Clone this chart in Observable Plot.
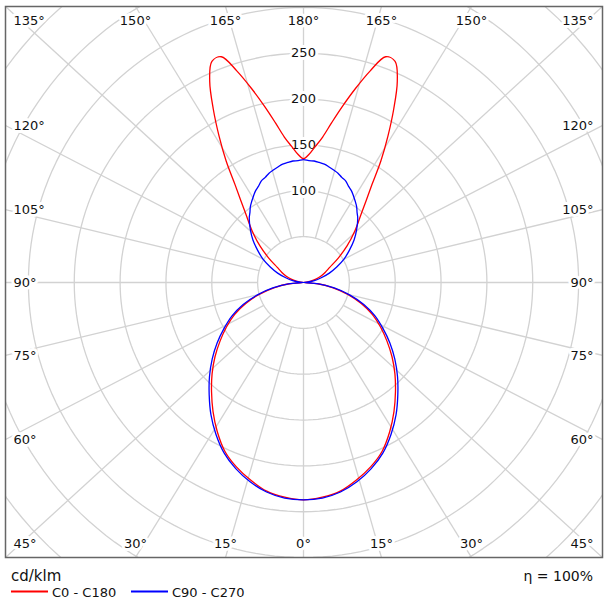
<!DOCTYPE html>
<html><head><meta charset="utf-8">
<script src="https://cdn.jsdelivr.net/npm/d3@7"></script>
<script src="https://cdn.jsdelivr.net/npm/@observablehq/plot@0.6"></script>
<style>
body{margin:0;background:#fff;}
#wrap{position:relative;width:605px;height:612px;background:#fff;}
#chart{position:absolute;left:0;top:0;}
#legend{position:absolute;left:0;top:562px;}
</style></head><body>
<div id="wrap"><div id="chart"></div><div id="legend"></div></div>
<script>
// vertical angle gamma (degrees), 0 = straight down, 180 = straight up
const gamma = [0,5,10,15,20,25,30,35,40,45,50,55,60,65,70,75,80,85,90,
  95,100,105,110,115,120,125,130,135,
  140,142.5,145,147.5,150,152.5,155,157.5,160,162.5,165,167.5,170,172.5,175,177.5,180];
// luminous intensity, cd/klm
const c0c180 = [237,235,231,223,214,203,188,172,156,141,126,111,97,83,67,50,32,15.5,0,
  3,8,14,20,26,33,46,62,79,
  98,112,130,157,184,213,242,261,262,242,219,197,177,160,149,140,135];
const c90c270 = [237,236,232,225,216,205,191,176,160,145,130,115,100,86,70,52,34,16.5,0,
  4,12,20,30,40,51,61,72,82,
  92,96,101,105,109,113,116,120,122,125,127,129,131,132,133,133,134];
const seriesNames = ["C0 - C180", "C90 - C270"];
const seriesColors = ["#ff0000", "#0000ff"];
const ringValues = [50,100,150,200,250,300,350,400,450,500];
const ringLabels = [100,150,200,250];
const angleLabels = [0,15,30,45,60,75,90,105,120,135,150,165,180];
const unitLabel = "cd/klm";
const efficiencyLabel = "η = 100%";

// ---- layout ----
const W = 605, H = 562, mL = 5, mR = 3, mT = 6, mB = 5;
const cx = 303, cy = 282, k = 0.917; // px per cd/klm
const xDom = [(mL - cx) / k, (W - mR - cx) / k];
const yDom = [-(H - mB - cy) / k, (cy - mT) / k];
const rad = d => d * Math.PI / 180;
const toX = px => (px - cx) / k, toY = py => (cy - py) / k;

// rings
const ringPts = [];
for (const r of ringValues) for (let a = 0; a <= 360; a += 2)
  ringPts.push({ring: r, X: r * Math.cos(rad(a)), Y: r * Math.sin(rad(a))});

// angle labels and radial lines
const labels = [], spokes = [];
for (const g of angleLabels) {
  const sides = (g === 0 || g === 180) ? [1] : [-1, 1];
  for (const s of sides) {
    const bottom = g < 90;
    const a = bottom ? g : 180 - g; // from vertical
    let lx, ly, anchor, ex, ey;
    if (a < 45) {
      lx = cx + s * 291 * Math.tan(rad(a)); ly = bottom ? 543 : 20; anchor = "middle";
      ex = lx; ey = bottom ? H - mB : mT;
    } else if (a === 45) {
      lx = s < 0 ? 13 : 593; ly = bottom ? 543 : 20; anchor = s < 0 ? "start" : "end";
      ex = s < 0 ? mL : W - mR; ey = bottom ? H - mB : mT;
    } else {
      lx = s < 0 ? 13 : 593; anchor = s < 0 ? "start" : "end";
      ly = cy + (bottom ? 1 : -1) * 272 * Math.tan(rad(90 - a));
      ex = s < 0 ? mL : W - mR; ey = ly;
    }
    labels.push({X: toX(lx), Y: toY(ly), text: g + "°", anchor});
    spokes.push({x1: s * 50 * Math.sin(rad(g)), y1: -50 * Math.cos(rad(g)), x2: toX(ex), y2: toY(ey)});
  }
}

// curves
function curvePoints(vals, name) {
  const pts = [];
  for (let i = 0; i < gamma.length; i++)
    pts.push({name, X: -vals[i] * Math.sin(rad(gamma[i])), Y: -vals[i] * Math.cos(rad(gamma[i]))});
  for (let i = gamma.length - 2; i >= 1; i--)
    pts.push({name, X: vals[i] * Math.sin(rad(gamma[i])), Y: -vals[i] * Math.cos(rad(gamma[i]))});
  return pts;
}
const curves = [curvePoints(c0c180, seriesNames[0]), curvePoints(c90c270, seriesNames[1])];

const grid = "#d2d2d2";
const font = "DejaVu Sans, sans-serif";
const chart = Plot.plot({
  width: W, height: H, marginLeft: mL, marginRight: mR, marginTop: mT, marginBottom: mB,
  x: {domain: xDom, axis: null},
  y: {domain: yDom, axis: null},
  style: {fontFamily: font, fontSize: "13px", background: "#fff"},
  marks: [
    Plot.line(ringPts, {x: "X", y: "Y", z: "ring", stroke: grid, strokeWidth: 1.3, clip: true}),
    Plot.link(spokes, {x1: "x1", y1: "y1", x2: "x2", y2: "y2", stroke: grid, strokeWidth: 1.3, clip: true}),
    Plot.text(ringLabels, {x: 0, y: d => d, text: d => String(d), fill: "#111", fontSize: 13,
      stroke: "#fff", strokeWidth: 6}),
    Plot.text(labels.filter(d => d.anchor === "start"), {x: "X", y: "Y", text: "text", textAnchor: "start",
      fill: "#111", fontSize: 13, stroke: "#fff", strokeWidth: 6}),
    Plot.text(labels.filter(d => d.anchor === "end"), {x: "X", y: "Y", text: "text", textAnchor: "end",
      fill: "#111", fontSize: 13, stroke: "#fff", strokeWidth: 6}),
    Plot.text(labels.filter(d => d.anchor === "middle"), {x: "X", y: "Y", text: "text",
      fill: "#111", fontSize: 13, stroke: "#fff", strokeWidth: 6}),
    Plot.line(curves[0], {x: "X", y: "Y", stroke: seriesColors[0], strokeWidth: 1.3, curve: "catmull-rom-closed"}),
    Plot.line(curves[1], {x: "X", y: "Y", stroke: seriesColors[1], strokeWidth: 1.3, curve: "catmull-rom-closed"}),
    Plot.frame({stroke: "#666", strokeWidth: 1.5})
  ]
});
document.getElementById("chart").appendChild(chart);

// legend below
const lg = d3.select("#legend").append("svg").attr("width", 605).attr("height", 50)
  .style("font-family", font);
lg.append("text").attr("x", 11).attr("y", 19).attr("font-size", 15).attr("fill", "#111").text(unitLabel);
lg.append("text").attr("x", 593).attr("y", 19).attr("font-size", 14).attr("text-anchor", "end").attr("fill", "#111").text(efficiencyLabel);
const items = [{x: 11, tx: 52}, {x: 131, tx: 172}];
seriesNames.forEach((n, i) => {
  lg.append("line").attr("x1", items[i].x).attr("x2", items[i].x + 37).attr("y1", 29.5).attr("y2", 29.5)
    .attr("stroke", seriesColors[i]).attr("stroke-width", 2);
  lg.append("text").attr("x", items[i].tx).attr("y", 35).attr("font-size", 13).attr("fill", "#111").text(n);
});
</script>
</body></html>
